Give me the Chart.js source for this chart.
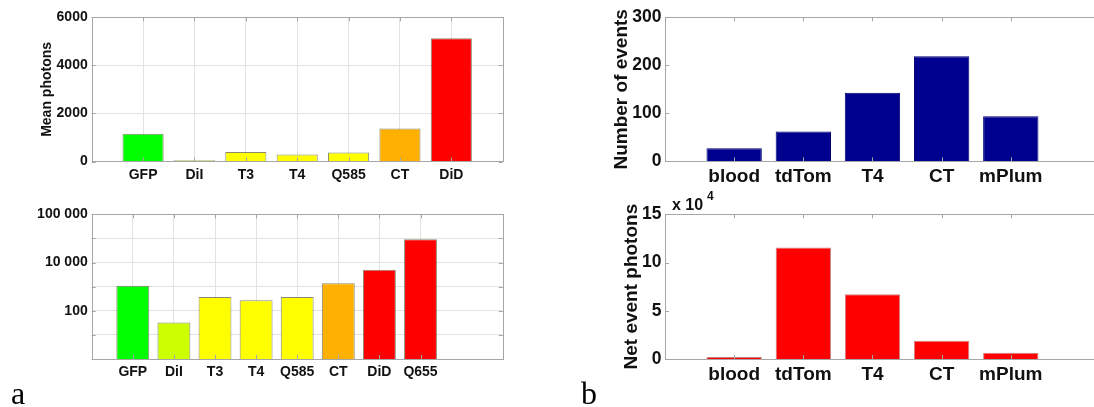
<!DOCTYPE html>
<html>
<head>
<meta charset="utf-8">
<script src="https://cdn.jsdelivr.net/npm/chart.js@4.4.1/dist/chart.umd.min.js"></script>
<style>
  html, body { margin: 0; padding: 0; background: #fff; width: 1094px; height: 407px; overflow: hidden; }
  canvas { position: absolute; }
  .panel { position: absolute; font-family: "Liberation Serif", "Times New Roman", serif; font-size: 32px; line-height: 32px; color: #000; }
</style>
</head>
<body>
<canvas id="meanChart" width="547" height="195" style="left:0;top:0"></canvas>
<canvas id="logChart" width="547" height="212" style="left:0;top:195px"></canvas>
<canvas id="eventsChart" width="560" height="185" style="left:547px;top:0"></canvas>
<canvas id="netChart" width="560" height="222" style="left:547px;top:185px"></canvas>
<div class="panel" style="left:11px;top:377px">a</div>
<div class="panel" style="left:581px;top:377px">b</div>
<script>
// dyes, linear plot
const dyes = ['GFP', 'DiI', 'T3', 'T4', 'Q585', 'CT', 'DiD'];
const meanPhotons = [1150, 50, 400, 290, 370, 1370, 5130];
const dyeColors = ['#00ff00', '#ccff00', '#ffff00', '#ffff00', '#ffff00', '#ffb000', '#ff0000'];

// dyes, log plot
const logDyes = ['GFP', 'DiI', 'T3', 'T4', 'Q585', 'CT', 'DiD', 'Q655'];
const logPhotons = [1100, 33, 375, 270, 375, 1380, 5040, 93000];
const logColors = ['#00ff00', '#ccff00', '#ffff00', '#ffff00', '#ffff00', '#ffb000', '#ff0000', '#ff0000'];
const logTicks = [1, 10, 100, 1000, 10000, 100000, 1000000];
const logTickLabels = ['', '', '100', '', '10 000', '', '100 000'];

// in vivo samples
const samples = ['blood', 'tdTom', 'T4', 'CT', 'mPlum'];
const eventCounts = [27, 62, 143, 219, 94];
const netPhotons = [2000, 115500, 67000, 19000, 6500];

Chart.defaults.font.family = '"Liberation Sans", Arial, Helvetica, sans-serif';
Chart.defaults.font.weight = 'bold';
Chart.defaults.color = '#111';

const boxColor = '#a6a6a6';
const gridColor = '#e2e2e2';

// axes box with short inward ticks on all four sides, plus optional exponent note
const boxPlugin = {
  id: 'box',
  afterDraw(chart, args, opts) {
    const { ctx, chartArea: a, scales: { x, y } } = chart;
    const len = 4;
    ctx.save();
    ctx.strokeStyle = boxColor;
    ctx.lineWidth = 1;
    ctx.beginPath();
    x.ticks.forEach(t => {
      const px = Math.round(x.getPixelForValue(t.value)) + 0.5;
      ctx.moveTo(px, a.bottom); ctx.lineTo(px, a.bottom - len);
      ctx.moveTo(px, a.top); ctx.lineTo(px, a.top + len);
    });
    y.ticks.forEach(t => {
      const py = Math.round(y.getPixelForValue(t.value)) + 0.5;
      ctx.moveTo(a.left, py); ctx.lineTo(a.left + len, py);
      ctx.moveTo(a.right, py); ctx.lineTo(a.right - len, py);
    });
    ctx.stroke();
    ctx.strokeRect(Math.round(a.left) + 0.5, Math.round(a.top) + 0.5,
      Math.round(a.right - a.left), Math.round(a.bottom - a.top));
    if (opts.exponent) {
      ctx.fillStyle = '#111';
      ctx.textBaseline = 'alphabetic';
      ctx.font = 'bold 16px "Liberation Sans", Arial, sans-serif';
      ctx.fillText('x 10', a.left + 7, a.top - 4);
      ctx.font = 'bold 12px "Liberation Sans", Arial, sans-serif';
      ctx.fillText(opts.exponent, a.left + 42, a.top - 14);
    }
    ctx.restore();
  }
};

function barChart(id, o) {
  return new Chart(document.getElementById(id), {
    type: 'bar',
    data: {
      datasets: [{
        data: o.labels.map((l, i) => ({ x: i + 1, y: o.values[i] })),
        backgroundColor: o.colors,
        borderColor: o.edge,
        borderWidth: 1,
        barPercentage: 0.8,
        categoryPercentage: 1
      }]
    },
    options: {
      responsive: false,
      animation: false,
      layout: { padding: o.pad },
      plugins: {
        legend: { display: false },
        tooltip: { enabled: false },
        box: { exponent: o.exponent }
      },
      scales: {
        x: {
          type: 'linear',
          min: 0,
          max: o.xMax,
          offset: false,
          afterBuildTicks: s => { s.ticks = o.labels.map((l, i) => ({ value: i + 1 })); },
          afterFit: s => { s.height = o.xHeight; },
          grid: { display: o.grid, offset: false, color: gridColor, drawTicks: false },
          border: { display: false },
          ticks: {
            autoSkip: false, maxRotation: 0, padding: o.xPad,
            font: { size: o.fontSize, weight: 'bold' },
            callback: (v, i) => o.labels[i]
          }
        },
        y: Object.assign({
          afterFit: s => { s.width = o.yWidth; },
          grid: { display: o.grid, color: gridColor, drawTicks: false },
          border: { display: false },
          title: {
            display: true, text: o.title,
            font: { size: o.titleSize, weight: 'bold' },
            padding: { top: o.titlePad, bottom: 0 }
          }
        }, o.y)
      }
    },
    plugins: [boxPlugin]
  });
}

barChart('meanChart', {
  labels: dyes, values: meanPhotons, colors: dyeColors, edge: 'rgba(40,40,0,0.55)',
  xMax: 8, xHeight: 33.5, xPad: 5, yWidth: 91.7, grid: true, fontSize: 14,
  pad: { left: 0, top: 17.3, right: 44.3, bottom: 0 },
  title: 'Mean photons', titleSize: 14, titlePad: 38.6,
  y: {
    min: 0, max: 6000,
    ticks: { stepSize: 2000, padding: 4, font: { size: 14, weight: 'bold' }, callback: v => String(v) }
  }
});

barChart('logChart', {
  labels: logDyes, values: logPhotons, colors: logColors, edge: 'rgba(40,40,0,0.55)',
  xMax: 10, xHeight: 48, xPad: 5, yWidth: 91.7, grid: true, fontSize: 14,
  pad: { left: 0, top: 19.3, right: 44.3, bottom: 0 },
  title: '', titleSize: 14, titlePad: 0,
  y: {
    type: 'logarithmic', min: 1, max: 1000000,
    title: { display: false },
    afterBuildTicks: s => { s.ticks = logTicks.map(v => ({ value: v })); },
    ticks: { padding: 4, font: { size: 14, weight: 'bold' }, callback: (v, i) => logTickLabels[i] }
  }
});

barChart('eventsChart', {
  labels: samples, values: eventCounts, colors: '#00008f', edge: '#000070',
  xMax: 6.29, xHeight: 23.7, xPad: 4, yWidth: 118, grid: false, fontSize: 19,
  pad: { left: 0, top: 17.3, right: 7, bottom: 0 },
  title: 'Number of events', titleSize: 19, titlePad: 63.6,
  y: {
    min: 0, max: 300,
    ticks: { stepSize: 100, padding: 3.5, font: { size: 17.5, weight: 'bold' } }
  }
});

barChart('netChart', {
  labels: samples, values: netPhotons, colors: '#ff0000', edge: 'rgba(150,0,0,0.5)',
  xMax: 6.29, xHeight: 48, xPad: 4, yWidth: 118, grid: false, fontSize: 19,
  pad: { left: 0, top: 29.3, right: 7, bottom: 0 },
  title: 'Net event photons', titleSize: 19, titlePad: 73.6, exponent: '4',
  y: {
    min: 0, max: 150000,
    ticks: { stepSize: 50000, padding: 3.5, font: { size: 17.5, weight: 'bold' }, callback: v => String(v / 10000) }
  }
});
</script>
</body>
</html>
